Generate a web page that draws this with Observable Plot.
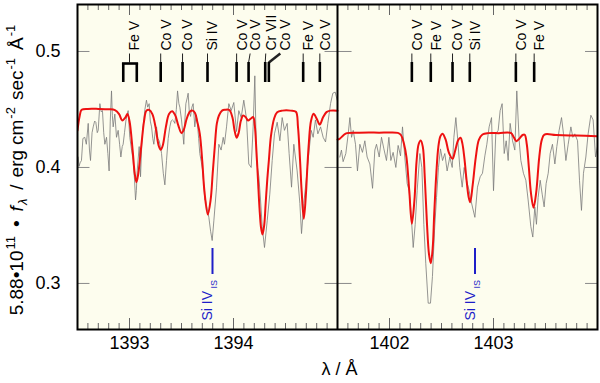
<!DOCTYPE html>
<html><head><meta charset="utf-8">
<script src="https://cdn.jsdelivr.net/npm/d3@7"></script>
<script src="https://cdn.jsdelivr.net/npm/@observablehq/plot@0.6"></script>
<style>body{margin:0;background:#fff}#chart{position:relative;width:600px;height:383px}</style>
</head><body><div id="chart"></div>
<script>
// ---- data ----
const obsLeftWl = [1392.506,1392.515,1392.525,1392.538,1392.552,1392.570,1392.585,1392.603,1392.615,1392.625,1392.640,1392.651,1392.665,1392.676,1392.690,1392.699,1392.715,1392.728,1392.740,1392.752,1392.763,1392.779,1392.792,1392.804,1392.815,1392.827,1392.835,1392.843,1392.859,1392.875,1392.891,1392.905,1392.917,1392.930,1392.939,1392.952,1392.965,1392.975,1392.987,1393.003,1393.020,1393.035,1393.048,1393.058,1393.066,1393.074,1393.093,1393.106,1393.118,1393.131,1393.148,1393.163,1393.175,1393.189,1393.200,1393.212,1393.224,1393.234,1393.248,1393.260,1393.272,1393.285,1393.298,1393.308,1393.325,1393.340,1393.356,1393.372,1393.388,1393.400,1393.413,1393.425,1393.436,1393.450,1393.462,1393.475,1393.484,1393.500,1393.512,1393.522,1393.532,1393.542,1393.555,1393.564,1393.575,1393.587,1393.600,1393.612,1393.628,1393.640,1393.651,1393.665,1393.676,1393.690,1393.702,1393.715,1393.724,
1393.731,1393.763,1393.780,1393.795,1393.811,1393.837,1393.859,1393.881,1393.901,1393.913,1393.933,1393.955,1393.978,1394.003,1394.029,1394.051,1394.074,1394.099,1394.125,1394.147,1394.170,1394.189,1394.205,1394.221,1394.244,1394.260,1394.276,1394.298,1394.324,1394.349,1394.372,1394.394,1394.420,1394.446,1394.468,1394.490,1394.516,1394.535,1394.558,1394.580,1394.612,1394.638,1394.654,1394.676,1394.702,1394.724,1394.747,1394.766,1394.788,1394.811,1394.837,1394.862,1394.885,1394.907,1394.933,1394.955,1394.978,1394.997];
const obsLeftFlux = [0.409,0.401,0.404,0.406,0.425,0.426,0.420,0.438,0.415,0.406,0.430,0.435,0.440,0.439,0.430,0.432,0.455,0.448,0.449,0.430,0.420,0.426,0.412,0.397,0.440,0.466,0.445,0.435,0.446,0.426,0.432,0.420,0.409,0.418,0.420,0.430,0.440,0.445,0.449,0.426,0.415,0.406,0.390,0.372,0.380,0.397,0.418,0.392,0.420,0.435,0.450,0.458,0.452,0.455,0.440,0.435,0.425,0.420,0.432,0.435,0.425,0.423,0.418,0.412,0.395,0.385,0.406,0.425,0.435,0.440,0.441,0.440,0.438,0.450,0.466,0.455,0.452,0.441,0.430,0.420,0.440,0.455,0.460,0.464,0.448,0.444,0.452,0.455,0.435,0.445,0.440,0.425,0.412,0.405,0.398,0.385,0.372,
0.372,0.357,0.345,0.337,0.354,0.383,0.420,0.415,0.426,0.420,0.435,0.455,0.449,0.456,0.431,0.449,0.443,0.458,0.442,0.403,0.400,0.435,0.479,0.406,0.392,0.372,0.349,0.331,0.354,0.377,0.406,0.429,0.439,0.423,0.443,0.432,0.438,0.412,0.383,0.420,0.397,0.369,0.343,0.369,0.392,0.412,0.432,0.426,0.441,0.429,0.435,0.426,0.422,0.438,0.455,0.464,0.465,0.458];
const obsRightWl = [1401.522,1401.538,1401.554,1401.580,1401.603,1401.619,1401.635,1401.651,1401.673,1401.692,1401.715,1401.740,1401.763,1401.785,1401.811,1401.837,1401.859,1401.875,1401.901,1401.923,1401.946,1401.971,1401.994,1402.013,1402.035,1402.061,1402.083,1402.106,1402.125,1402.147,1402.170,1402.189,1402.208,1402.228,1402.247,1402.266,1402.292,1402.311,1402.330,1402.349,1402.372,1402.394,1402.413,1402.433,1402.452,1402.471,1402.490,1402.510,1402.532,1402.554,1402.580,1402.603,1402.619,1402.638,1402.657,1402.676,1402.699,1402.718,1402.740,1402.766,
1402.782,1402.821,1402.846,1402.872,1402.894,1402.917,1402.936,1402.958,1402.981,1403.000,1403.022,1403.045,1403.064,1403.083,1403.103,1403.122,1403.141,1403.160,1403.183,1403.205,1403.224,1403.247,1403.263,1403.288,1403.311,1403.333,1403.359,1403.378,1403.397,1403.413,1403.429,1403.449,1403.468,1403.487,1403.506,1403.526,1403.545,1403.567,1403.590,1403.609,1403.631,1403.654,1403.673,1403.696,1403.718,1403.744,1403.763,1403.782,1403.808,1403.827,1403.846,1403.865,1403.888,1403.910,1403.936,1403.958,1403.981,1404.000];
const obsRightFlux = [0.409,0.415,0.405,0.412,0.429,0.443,0.426,0.432,0.420,0.397,0.420,0.413,0.423,0.409,0.403,0.382,0.415,0.420,0.409,0.426,0.416,0.406,0.426,0.406,0.413,0.400,0.419,0.410,0.435,0.409,0.386,0.380,0.360,0.331,0.351,0.380,0.412,0.400,0.351,0.317,0.283,0.283,0.306,0.346,0.374,0.400,0.416,0.406,0.412,0.397,0.409,0.400,0.426,0.443,0.423,0.400,0.383,0.400,0.389,0.380,
0.372,0.357,0.383,0.392,0.395,0.410,0.420,0.435,0.443,0.380,0.429,0.432,0.449,0.455,0.412,0.423,0.406,0.438,0.423,0.415,0.466,0.423,0.406,0.395,0.389,0.372,0.349,0.340,0.366,0.351,0.374,0.389,0.377,0.366,0.386,0.395,0.412,0.420,0.403,0.418,0.432,0.443,0.429,0.406,0.420,0.435,0.426,0.429,0.423,0.389,0.363,0.395,0.409,0.429,0.445,0.441,0.409,0.418];

const modelLeftWl = [1392.50,1392.52,1392.54,1392.60,1392.70,1392.80,1392.86,1392.90,1392.93,1392.96,1392.98,1393.00,1393.03,1393.05,1393.067,1393.085,1393.115,1393.14,1393.163,1393.19,1393.22,1393.25,1393.28,1393.30,1393.32,1393.35,1393.38,1393.41,1393.44,1393.47,1393.50,1393.52,1393.55,1393.58,1393.606,1393.63,1393.65,1393.676,1393.70,1393.72,1393.753,1393.78,1393.80,1393.82,1393.84,1393.86,1393.89,1393.92,1393.96,1393.99,1394.01,1394.03,1394.05,1394.07,1394.093,1394.12,1394.14,1394.165,1394.19,1394.205,1394.22,1394.235,1394.25,1394.265,1394.279,1394.295,1394.31,1394.325,1394.34,1394.36,1394.39,1394.42,1394.47,1394.55,1394.60,1394.62,1394.64,1394.655,1394.676,1394.695,1394.71,1394.724,1394.745,1394.77,1394.80,1394.83,1394.86,1394.894,1394.93,1395.00];
const modelLeftFlux = [0.432,0.444,0.4497,0.4505,0.4505,0.4502,0.4495,0.446,0.4405,0.443,0.446,0.440,0.415,0.395,0.3873,0.395,0.420,0.440,0.449,0.4495,0.446,0.435,0.419,0.4152,0.419,0.435,0.446,0.4485,0.445,0.436,0.4296,0.432,0.442,0.448,0.449,0.447,0.440,0.429,0.405,0.380,0.3595,0.372,0.395,0.418,0.438,0.4448,0.449,0.4497,0.4495,0.443,0.432,0.4256,0.430,0.440,0.4448,0.443,0.4405,0.442,0.4434,0.436,0.415,0.390,0.365,0.348,0.3422,0.350,0.370,0.390,0.406,0.427,0.442,0.4477,0.449,0.449,0.448,0.435,0.406,0.380,0.3558,0.375,0.400,0.4204,0.440,0.4463,0.442,0.437,0.443,0.4477,0.449,0.449];
const modelRightWl = [1401.50,1401.52,1401.56,1401.59,1401.70,1401.80,1401.90,1402.00,1402.08,1402.11,1402.14,1402.163,1402.19,1402.215,1402.24,1402.26,1402.28,1402.30,1402.32,1402.34,1402.36,1402.38,1402.397,1402.415,1402.43,1402.45,1402.47,1402.49,1402.51,1402.54,1402.57,1402.606,1402.63,1402.66,1402.683,1402.70,1402.72,1402.74,1402.76,1402.776,1402.80,1402.83,1402.86,1402.894,1402.95,1403.05,1403.17,1403.195,1403.22,1403.25,1403.28,1403.30,1403.32,1403.34,1403.36,1403.385,1403.41,1403.44,1403.465,1403.49,1403.60,1403.80,1404.00];
const modelRightFlux = [0.424,0.4247,0.428,0.4296,0.430,0.4302,0.430,0.4302,0.4298,0.428,0.420,0.409,0.380,0.3515,0.372,0.405,0.420,0.4233,0.418,0.390,0.352,0.325,0.3175,0.330,0.360,0.3945,0.418,0.427,0.429,0.424,0.413,0.4075,0.414,0.4235,0.4256,0.421,0.408,0.390,0.375,0.370,0.385,0.409,0.424,0.4284,0.4296,0.4296,0.4296,0.426,0.4227,0.425,0.428,0.4282,0.420,0.400,0.378,0.3653,0.378,0.409,0.424,0.4284,0.428,0.4275,0.427];

// line identifications
const idLabels  = ["Fe V","Co V","Co V","Si IV","Co V","Co V","Cr VII","Co V","Fe V","Co V","Co V","Fe V","Co V","Si IV","Co V","Fe V"];
const idLabelWl = [1393.00,1393.30,1393.51,1393.75,1394.03,1394.16,1394.31,1394.45,1394.67,1394.83,1402.215,1402.397,1402.606,1402.772,1403.215,1403.391];
const idMarkWl  = [null,1393.30,1393.51,1393.75,1394.03,1394.145,1394.305,1394.34,1394.67,1394.83,1402.215,1402.397,1402.606,1402.772,1403.215,1403.391];
const feBracketWl = [1392.94, 1393.07];
const isLabel = "Si IV", isSub = "IS";
const isWl = [1393.798, 1402.822];

const xTickWl = [1393, 1394, 1402, 1403];
const xTickLabels = ["1393", "1394", "1402", "1403"];
const yTickVals = [0.3, 0.4, 0.5];
const yTickLabels = ["0.3", "0.4", "0.5"];

// ---- layout helpers ----
const Y_DOMAIN = [0.2603, 0.5405];
const MT = 4, MB = 54, H = 383, FH = H - MT - MB; // frame 4..329
const toU = w => w < 1398 ? w - 1392.5 : w - 1401.5 + 2.5;
const pxToY = d3.scaleLinear().domain([H - MB, MT]).range(Y_DOMAIN);

const mk = (wl, fl) => wl.map((w, i) => ({u: toU(w), f: fl[i]}));
const obsL = mk(obsLeftWl, obsLeftFlux), obsR = mk(obsRightWl, obsRightFlux);
const modL = mk(modelLeftWl, modelLeftFlux), modR = mk(modelRightWl, modelRightFlux);
const ids = idLabels.map((t, i) => ({t, lu: toU(idLabelWl[i]), mu: idMarkWl[i] == null ? null : toU(idMarkWl[i])}));

const minor = d3.range(1, 50).map(k => k / 10).filter(u => Math.abs(u - 2.5) > 1e-6);
const major = xTickWl.map(toU);
const minorOnly = minor.filter(u => !major.some(m => Math.abs(m - u) < 1e-6));

const font = "Liberation Sans, Arial, Helvetica, sans-serif";
const tickC = "#666", yTickC = "#8a8a8a";
const blue = "#1e1ec8", red = "#ee1111";

const plot = Plot.plot({
  width: 600, height: H, marginLeft: 77, marginRight: 3, marginTop: MT, marginBottom: MB,
  x: {domain: [0, 5], axis: null},
  y: {domain: Y_DOMAIN, axis: null},
  style: {fontFamily: font, background: "white", color: "black"},
  marks: [
    Plot.frame({fill: "#fdfdee", stroke: null}),
    Plot.line(obsL, {x: "u", y: "f", stroke: "#7a7a7a", strokeWidth: 0.8, clip: true}),
    Plot.line(obsR, {x: "u", y: "f", stroke: "#7a7a7a", strokeWidth: 0.8, clip: true}),
    Plot.line(modL, {x: "u", y: "f", stroke: red, strokeWidth: 2, curve: "catmull-rom", clip: true}),
    Plot.line(modR, {x: "u", y: "f", stroke: red, strokeWidth: 2, curve: "catmull-rom", clip: true}),
    // x ticks (inward, top and bottom)
    Plot.ruleX(minorOnly, {x: d => d, insetBottom: FH - 6, stroke: tickC}),
    Plot.ruleX(minorOnly, {x: d => d, insetTop: FH - 6, stroke: tickC}),
    Plot.ruleX(major, {x: d => d, insetBottom: FH - 11, stroke: tickC}),
    Plot.ruleX(major, {x: d => d, insetTop: FH - 11, stroke: tickC}),
    // y ticks (inward at each panel edge)
    Plot.ruleY(yTickVals, {y: d => d, x1: 0, x2: 0.12, stroke: yTickC}),
    Plot.ruleY(yTickVals, {y: d => d, x1: 2.38, x2: 2.5, stroke: yTickC}),
    Plot.ruleY(yTickVals, {y: d => d, x1: 2.5, x2: 2.64, stroke: yTickC}),
    Plot.ruleY(yTickVals, {y: d => d, x1: 4.885, x2: 5, stroke: yTickC}),
    Plot.frame({stroke: "black", strokeWidth: 2}),
    Plot.ruleX([2.5], {x: d => d, stroke: "black", strokeWidth: 2}),
    // line identification markers
    Plot.link(ids, {x1: "lu", x2: d => d.mu ?? d.lu, y1: pxToY(53), y2: pxToY(62),
      stroke: "#222", strokeWidth: d => (d.mu != null && Math.abs(d.mu - d.lu) > 0.02) ? 2.5 : 1}),
    Plot.ruleX(ids.filter(d => d.mu != null), {x: "mu", insetTop: 62 - MT, insetBottom: H - MB - 82, stroke: "black", strokeWidth: 2.6}),
    Plot.link([feBracketWl.map(toU)], {x1: d => d[0], x2: d => d[1], y1: pxToY(63), y2: pxToY(63), stroke: "black", strokeWidth: 2.6, strokeLinecap: "square"}),
    Plot.ruleX(feBracketWl.map(toU), {x: d => d, insetTop: 63 - MT, insetBottom: H - MB - 82, stroke: "black", strokeWidth: 2.6}),
    Plot.text(ids, {x: "lu", text: "t", frameAnchor: "top", dy: 46, rotate: -90, textAnchor: "start", fontSize: 14, fill: "black"}),
    // interstellar Si IV
    Plot.ruleX(isWl.map(toU), {x: d => d, insetTop: 248 - MT, insetBottom: H - MB - 274, stroke: blue, strokeWidth: 2}),
    Plot.text(isWl.map(toU), {x: d => d, text: () => isLabel, frameAnchor: "bottom", dy: -9, rotate: -90, textAnchor: "start", fontSize: 14, fill: blue}),
    Plot.text(isWl.map(toU), {x: d => d, text: () => isSub, frameAnchor: "bottom", dy: -41, dx: 5, rotate: -90, textAnchor: "start", fontSize: 9, fill: blue}),
    // axis labels
    Plot.text(xTickWl, {x: d => toU(d), text: (d, i) => xTickLabels[i], frameAnchor: "bottom", dy: 19, fontSize: 18, fill: "black"}),
    Plot.text(yTickVals, {y: d => d, text: (d, i) => yTickLabels[i], frameAnchor: "left", dx: -17, textAnchor: "end", fontSize: 18, fill: "black"}),
    Plot.text(["λ / Å"], {x: 2.52, text: d => d, frameAnchor: "bottom", dy: 45, fontSize: 18, fill: "black"})
  ]
});

// y-axis title with super/subscripts
const svg = d3.select(plot);
const t = svg.append("text")
  .attr("transform", "translate(23,170) rotate(-90)")
  .attr("text-anchor", "middle").attr("font-size", 19).attr("font-family", font).attr("fill", "black");
// [text, dy, fontSize, style, dx]
const parts = [
  ["5.88•10", 0, 19, null, 0], ["11", -8, 13, null, 1], ["•", 8, 19, null, 9], ["f", 0, 19, "italic", 9], ["λ", 4, 13, "italic", 1],
  ["/", -4, 19, null, 9], ["erg", 0, 19, null, 7], ["cm", 0, 19, null, 5], ["-2", -8, 13, null, 1], ["sec", 8, 19, null, 7],
  ["-1", -8, 13, null, 1], ["Å", 8, 19, null, 8], ["-1", -8, 13, null, 1]
];
for (const [s, dy, fs, st, dx] of parts) {
  const sp = t.append("tspan").attr("dy", dy).attr("dx", dx).attr("font-size", fs).text(s);
  if (st) sp.attr("font-style", st);
}
document.getElementById("chart").appendChild(plot);
</script></body></html>
